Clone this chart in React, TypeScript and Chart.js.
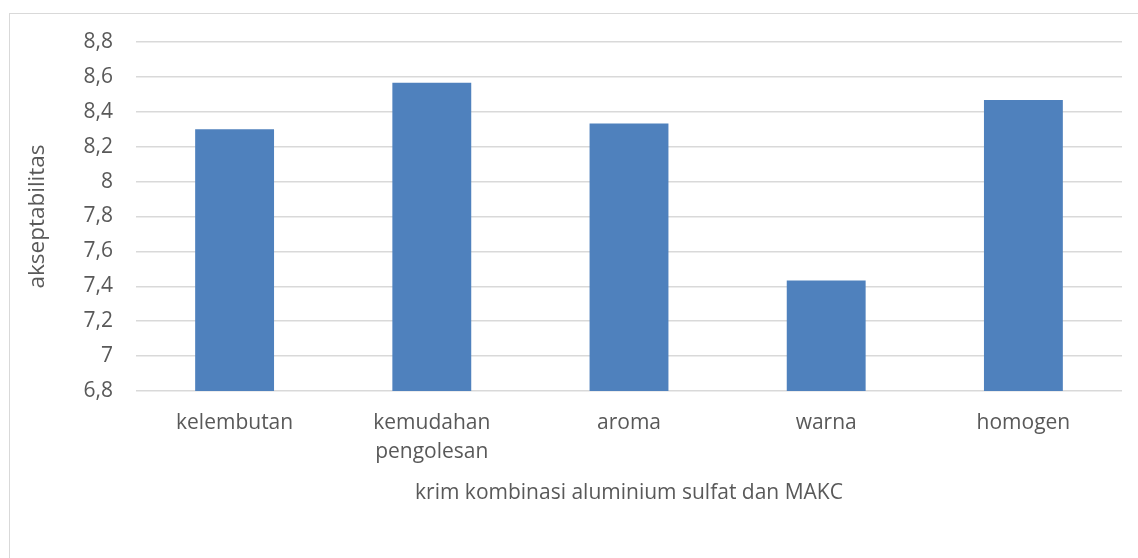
import React, { useEffect, useRef } from "react";
import { Chart, registerables } from "chart.js";

Chart.register(...registerables);

const categories: (string | string[])[] = [
  "kelembutan",
  ["kemudahan", "pengolesan"],
  "aroma",
  "warna",
  "homogen",
];
const values: number[] = [8.3, 8.567, 8.333, 7.433, 8.467];
const yTickLabels: string[] = ["6,8", "7", "7,2", "7,4", "7,6", "7,8", "8", "8,2", "8,4", "8,6", "8,8"];
const yTitle = "akseptabilitas";
const xTitle = "krim kombinasi aluminium sulfat dan MAKC";

const FONT = "'Open Sans', 'Noto Sans', sans-serif";
const TEXT = "#595959";

export default function App() {
  const ref = useRef<HTMLCanvasElement | null>(null);
  useEffect(() => {
    if (!ref.current) return;
    const chart = new Chart(ref.current, {
      type: "bar",
      data: {
        labels: categories,
        datasets: [
          {
            data: values,
            backgroundColor: "#4f81bd",
            borderWidth: 0,
            barPercentage: 0.4,
            categoryPercentage: 1,
          },
        ],
      },
      options: {
        animation: false,
        responsive: false,
        maintainAspectRatio: false,
        layout: { padding: { left: 24.5, top: 42, right: 16, bottom: 52.4 } },
        plugins: { legend: { display: false }, tooltip: { enabled: false } },
        scales: {
          x: {
            grid: { display: false, drawTicks: false },
            border: { display: false },
            ticks: {
              color: TEXT,
              font: { family: FONT, size: 21, lineHeight: 1.4 },
              padding: 17,
              maxRotation: 0,
              autoSkip: false,
            },
            title: {
              display: true,
              text: xTitle,
              color: TEXT,
              font: { family: FONT, size: 21 },
              padding: 0,
            },
            afterFit: (s: any) => {
              s.height = 114.6;
            },
          },
          y: {
            min: 6.8,
            max: 8.8,
            grid: { color: "#d9d9d9", lineWidth: 1.5, drawTicks: false },
            border: { display: false },
            ticks: {
              stepSize: 0.2,
              color: TEXT,
              font: { family: FONT, size: 21 },
              padding: 23,
              callback: (_v: any, i: number) => yTickLabels[i],
            },
            title: {
              display: true,
              text: yTitle,
              color: TEXT,
              font: { family: FONT, size: 22.5 },
              padding: 0,
            },
            afterFit: (s: any) => {
              s.width = 111.5;
            },
          },
        },
      },
    });
    return () => chart.destroy();
  }, []);

  return (
    <div
      style={{
        position: "absolute",
        left: 0,
        top: 0,
        width: 1138,
        height: 558,
        overflow: "hidden",
        background: "#fff",
      }}
    >
      <div
        style={{
          position: "absolute",
          left: 9,
          top: 13,
          width: 1200,
          height: 600,
          border: "1px solid #d9d9d9",
          boxSizing: "border-box",
        }}
      />
      <canvas
        ref={ref}
        width={1138}
        height={558}
        style={{ position: "absolute", left: 0, top: 0, width: 1138, height: 558 }}
      />
    </div>
  );
}
